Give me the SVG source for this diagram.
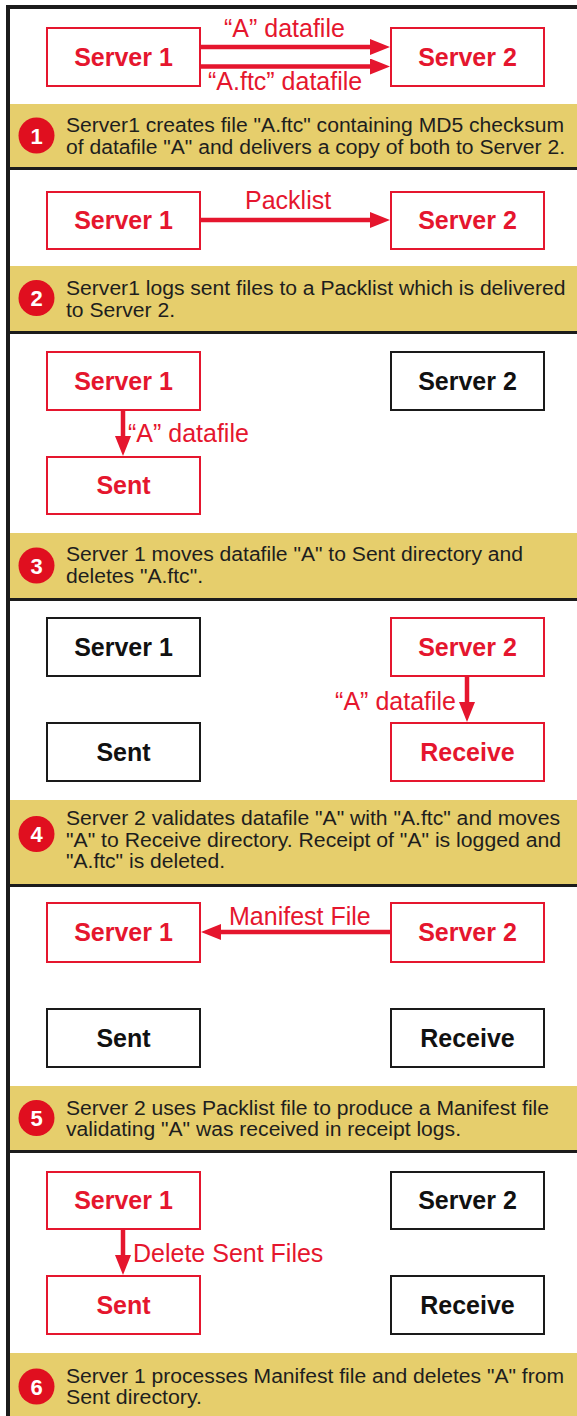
<svg xmlns="http://www.w3.org/2000/svg" width="577" height="1416" viewBox="0 0 577 1416">
<style>
.band{fill:#e6ce6c}
.sep{fill:#1c1c1c}
.rbox{fill:#fff;stroke:#e5162e;stroke-width:2}
.kbox{fill:#fff;stroke:#1a1a1a;stroke-width:2}
.rlab{font-family:"Liberation Sans",Arial,sans-serif;font-weight:bold;font-size:25px;fill:#e5162e;text-anchor:middle}
.klab{font-family:"Liberation Sans",Arial,sans-serif;font-weight:bold;font-size:25px;fill:#111;text-anchor:middle}
.cap{font-family:"Liberation Sans",Arial,sans-serif;font-size:19.5px;fill:#1e1e1e}
.num{font-family:"Liberation Sans",Arial,sans-serif;font-weight:bold;font-size:22px;fill:#fff;text-anchor:middle}
.dot{fill:#e00f1f}
.conn{stroke:#e5162e;stroke-width:4.5;fill:none;marker-end:url(#ah)}
.clab{font-family:"Liberation Sans",Arial,sans-serif;font-size:25px;fill:#e5162e}
</style>
<defs>
<marker id="ah" markerUnits="userSpaceOnUse" markerWidth="20" markerHeight="16" viewBox="0 0 20 16" refX="8" refY="8" orient="auto">
<path d="M0,0 L20,8 L0,16 z" fill="#e5162e"/>
</marker>
</defs>
<rect x="0" y="0" width="577" height="1416" fill="#fff"/>
<g id="frame">
<rect class="band" x="10" y="104" width="567" height="63"/>
<rect class="band" x="10" y="266" width="567" height="65"/>
<rect class="band" x="10" y="533" width="567" height="65"/>
<rect class="band" x="10" y="800" width="567" height="84"/>
<rect class="band" x="10" y="1086" width="567" height="64"/>
<rect class="band" x="10" y="1353" width="567" height="63"/>
<rect class="sep" x="6" y="5" width="571" height="4"/>
<rect class="sep" x="6" y="5" width="4" height="1411"/>
<rect class="sep" x="10" y="167" width="567" height="3"/>
<rect class="sep" x="10" y="331" width="567" height="3"/>
<rect class="sep" x="10" y="598" width="567" height="3"/>
<rect class="sep" x="10" y="884" width="567" height="3"/>
<rect class="sep" x="10" y="1150" width="567" height="3"/>
</g>
<g id="captions">
<g id="step1"><circle class="dot" cx="36.5" cy="135.5" r="18"/><text class="num" x="36.5" y="143.5">1</text>
<text class="cap" x="66" y="132" textLength="498" lengthAdjust="spacingAndGlyphs">Server1 creates file "A.ftc" containing MD5 checksum</text>
<text class="cap" x="66" y="153.5" textLength="499" lengthAdjust="spacingAndGlyphs">of datafile "A" and delivers a copy of both to Server 2.</text></g>
<g id="step2"><circle class="dot" cx="36.5" cy="298" r="18"/><text class="num" x="36.5" y="306">2</text>
<text class="cap" x="66" y="295" textLength="499.5" lengthAdjust="spacingAndGlyphs">Server1 logs sent files to a Packlist which is delivered</text>
<text class="cap" x="66" y="316.5" textLength="109" lengthAdjust="spacingAndGlyphs">to Server 2.</text></g>
<g id="step3"><circle class="dot" cx="36.5" cy="565.5" r="18"/><text class="num" x="36.5" y="573.5">3</text>
<text class="cap" x="66" y="561" textLength="457" lengthAdjust="spacingAndGlyphs">Server 1 moves datafile "A" to Sent directory and</text>
<text class="cap" x="66" y="582.5" textLength="137" lengthAdjust="spacingAndGlyphs">deletes "A.ftc".</text></g>
<g id="step4"><circle class="dot" cx="36.5" cy="834" r="18"/><text class="num" x="36.5" y="842">4</text>
<text class="cap" x="66" y="825" textLength="494" lengthAdjust="spacingAndGlyphs">Server 2 validates datafile "A" with "A.ftc" and moves</text>
<text class="cap" x="66" y="846.7" textLength="495" lengthAdjust="spacingAndGlyphs">"A" to Receive directory. Receipt of "A" is logged and</text>
<text class="cap" x="66" y="868.3" textLength="159" lengthAdjust="spacingAndGlyphs">"A.ftc" is deleted.</text></g>
<g id="step5"><circle class="dot" cx="36.5" cy="1118" r="18"/><text class="num" x="36.5" y="1126">5</text>
<text class="cap" x="66" y="1114.5" textLength="483" lengthAdjust="spacingAndGlyphs">Server 2 uses Packlist file to produce a Manifest file</text>
<text class="cap" x="66" y="1136" textLength="395" lengthAdjust="spacingAndGlyphs">validating "A" was received in receipt logs.</text></g>
<g id="step6"><circle class="dot" cx="36.5" cy="1386.5" r="18"/><text class="num" x="36.5" y="1394.5">6</text>
<text class="cap" x="66" y="1382.7" textLength="498" lengthAdjust="spacingAndGlyphs">Server 1 processes Manifest file and deletes "A" from</text>
<text class="cap" x="66" y="1404.3" textLength="136" lengthAdjust="spacingAndGlyphs">Sent directory.</text></g>
</g>
<g id="p1-server1"><rect class="rbox" x="47" y="28" width="153" height="58"/><text class="rlab" x="123.5" y="65.5">Server 1</text></g>
<g id="p1-server2"><rect class="rbox" x="391" y="28" width="153" height="58"/><text class="rlab" x="467.5" y="65.5">Server 2</text></g>
<g id="p2-server1"><rect class="rbox" x="47" y="192" width="153" height="57"/><text class="rlab" x="123.5" y="229">Server 1</text></g>
<g id="p2-server2"><rect class="rbox" x="391" y="192" width="153" height="57"/><text class="rlab" x="467.5" y="229">Server 2</text></g>
<g id="p3-server1"><rect class="rbox" x="47" y="352" width="153" height="58"/><text class="rlab" x="123.5" y="389.5">Server 1</text></g>
<g id="p3-server2"><rect class="kbox" x="391" y="352" width="153" height="58"/><text class="klab" x="467.5" y="389.5">Server 2</text></g>
<g id="p3-sent"><rect class="rbox" x="47" y="457" width="153" height="57"/><text class="rlab" x="123.5" y="494">Sent</text></g>
<g id="p4-server1"><rect class="kbox" x="47" y="618" width="153" height="58"/><text class="klab" x="123.5" y="655.5">Server 1</text></g>
<g id="p4-server2"><rect class="rbox" x="391" y="618" width="153" height="58"/><text class="rlab" x="467.5" y="655.5">Server 2</text></g>
<g id="p4-sent"><rect class="kbox" x="47" y="723" width="153" height="58"/><text class="klab" x="123.5" y="760.5">Sent</text></g>
<g id="p4-receive"><rect class="rbox" x="391" y="723" width="153" height="58"/><text class="rlab" x="467.5" y="760.5">Receive</text></g>
<g id="p5-server1"><rect class="rbox" x="47" y="903" width="153" height="59"/><text class="rlab" x="123.5" y="941">Server 1</text></g>
<g id="p5-server2"><rect class="rbox" x="391" y="903" width="153" height="59"/><text class="rlab" x="467.5" y="941">Server 2</text></g>
<g id="p5-sent"><rect class="kbox" x="47" y="1009" width="153" height="58"/><text class="klab" x="123.5" y="1046.5">Sent</text></g>
<g id="p5-receive"><rect class="kbox" x="391" y="1009" width="153" height="58"/><text class="klab" x="467.5" y="1046.5">Receive</text></g>
<g id="p6-server1"><rect class="rbox" x="47" y="1172" width="153" height="57"/><text class="rlab" x="123.5" y="1209">Server 1</text></g>
<g id="p6-server2"><rect class="kbox" x="391" y="1172" width="153" height="57"/><text class="klab" x="467.5" y="1209">Server 2</text></g>
<g id="p6-sent"><rect class="rbox" x="47" y="1276" width="153" height="58"/><text class="rlab" x="123.5" y="1313.5">Sent</text></g>
<g id="p6-receive"><rect class="kbox" x="391" y="1276" width="153" height="58"/><text class="klab" x="467.5" y="1313.5">Receive</text></g>
<g id="connectors">
<line class="conn" x1="201" y1="47" x2="378" y2="47"/>
<text class="clab" x="224" y="37">“A” datafile</text>
<line class="conn" x1="201" y1="66.5" x2="378" y2="66.5"/>
<text class="clab" x="208" y="90">“A.ftc” datafile</text>
<line class="conn" x1="201" y1="220" x2="378" y2="220"/>
<text class="clab" x="245" y="209">Packlist</text>
<line class="conn" x1="123" y1="411" x2="123" y2="444"/>
<text class="clab" x="128" y="442">“A” datafile</text>
<line class="conn" x1="467" y1="677" x2="467" y2="710"/>
<text class="clab" x="456" y="710" text-anchor="end">“A” datafile</text>
<line class="conn" x1="390" y1="932" x2="213" y2="932"/>
<text class="clab" x="229" y="925">Manifest File</text>
<line class="conn" x1="123" y1="1230" x2="123" y2="1263"/>
<text class="clab" x="133" y="1261.5">Delete Sent Files</text>
</g>
</svg>
